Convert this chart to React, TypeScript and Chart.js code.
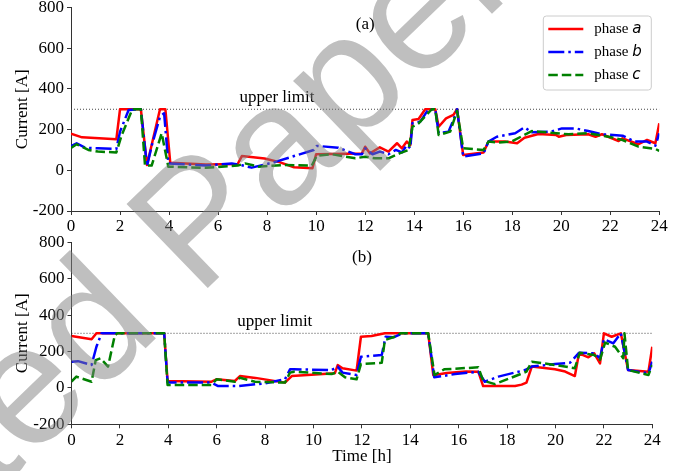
import React, { useEffect, useRef } from 'react';
import { Chart, registerables } from 'chart.js';

Chart.register(...registerables);

// ---------- axes / labels ----------
const X_MIN = 0;
const X_MAX = 24;
const X_STEP = 2;
const Y_MIN = -200;
const Y_MAX = 800;
const Y_STEP = 200;
const UPPER_LIMIT = 300;
const PHASES = ['a', 'b', 'c'];
const PANEL_LABELS = ['(a)', '(b)'];
const Y_TITLE = 'Current [A]';
const X_TITLE = 'Time [h]';
const LIMIT_TEXT = 'upper limit';
const WATERMARK = 'Accepted Paper';

// ---------- panel (a) ----------
const aTimeA = [0, 0.45, 1.85, 2.0, 2.85, 3.1, 3.63, 3.85, 4.05, 5.5, 6.8, 6.97, 7.9, 8.5, 9.1, 9.85, 10.0, 11.87, 12.0, 12.2, 12.6, 12.95, 13.3, 13.5, 13.7, 13.84, 13.93, 14.18, 14.45, 14.86, 15.0, 15.3, 15.6, 15.75, 16.0, 16.83, 17.03, 17.7, 18.2, 18.5, 19.07, 19.8, 19.9, 20.2, 21.1, 21.4, 21.66, 22.34, 22.5, 23.15, 23.5, 23.84, 24];
const aCurA = [180, 162, 152, 300, 300, 26, 300, 300, 37, 28, 31, 70, 58, 40, 15, 10, 79, 83, 116, 83, 113, 92, 133, 108, 141, 124, 247, 252, 300, 300, 214, 255, 272, 300, 75, 88, 141, 141, 133, 160, 178, 173, 165, 173, 177, 165, 177, 144, 157, 128, 149, 133, 231];

const aTimeB = [0, 0.23, 0.57, 1.1, 1.85, 2.0, 2.35, 2.85, 3.1, 3.3, 3.63, 3.8, 3.97, 5.5, 6.56, 6.97, 7.37, 8.3, 9.1, 9.9, 10.03, 10.9, 11.6, 11.87, 12.0, 12.3, 12.6, 12.95, 13.25, 13.5, 13.7, 13.84, 13.93, 14.25, 14.58, 14.86, 15.0, 15.4, 15.6, 15.75, 16.0, 16.83, 17.03, 17.37, 18.12, 18.5, 18.8, 19.6, 20.03, 20.57, 21.1, 21.66, 22.5, 23.0, 23.5, 23.84, 24];
const aCurB = [118, 133, 111, 108, 105, 190, 296, 300, 20, 124, 263, 280, 34, 23, 34, 25, 13, 40, 70, 100, 120, 111, 79, 79, 108, 79, 92, 79, 100, 88, 124, 108, 231, 239, 300, 300, 182, 190, 247, 300, 67, 83, 141, 165, 182, 211, 187, 190, 206, 206, 193, 177, 170, 141, 141, 121, 182];

const aTimeC = [0, 0.23, 0.71, 1.1, 1.85, 2.07, 2.5, 2.85, 3.02, 3.29, 3.7, 3.97, 5.5, 6.8, 7.1, 7.65, 8.73, 9.82, 10.03, 10.64, 11.6, 12.0, 12.4, 12.95, 13.4, 13.77, 13.93, 14.18, 14.72, 14.86, 15.0, 15.47, 15.75, 16.0, 16.83, 17.03, 17.44, 17.97, 18.8, 19.8, 20.3, 21.1, 21.93, 22.5, 23.15, 23.84, 24];
const aCurC = [110, 128, 100, 92, 88, 173, 300, 300, 23, 23, 182, 18, 12, 23, 34, 18, 26, 23, 72, 79, 59, 67, 59, 59, 83, 100, 214, 231, 300, 300, 173, 190, 292, 108, 100, 141, 137, 141, 193, 182, 177, 182, 165, 149, 116, 105, 95];

// ---------- panel (b) ----------
const bTimeA = [0, 0.83, 1.03, 3.83, 3.97, 5.79, 5.99, 6.75, 6.96, 7.6, 8.82, 9.1, 10.88, 11.0, 11.2, 11.78, 11.96, 12.4, 12.95, 14.74, 14.95, 15.5, 16.3, 16.81, 17.01, 18.33, 18.6, 18.8, 19.02, 19.98, 20.4, 20.8, 20.97, 21.36, 21.6, 21.84, 22.0, 22.32, 22.7, 23.0, 23.84, 24];
const bCurA = [285, 267, 300, 300, 38, 34, 47, 38, 65, 55, 29, 65, 80, 125, 108, 95, 281, 285, 300, 300, 70, 82, 90, 89, 10, 10, 18, 29, 117, 102, 90, 65, 190, 168, 190, 135, 300, 281, 300, 98, 89, 226];

const bTimeB = [0, 0.27, 0.83, 1.03, 1.24, 3.83, 3.97, 5.79, 6.06, 6.89, 7.99, 8.82, 9.03, 9.2, 10.75, 11.0, 11.2, 11.78, 11.96, 12.82, 12.98, 13.3, 13.7, 14.74, 14.99, 15.85, 16.81, 17.08, 17.64, 18.74, 19.02, 19.98, 20.6, 20.97, 21.6, 21.84, 22.0, 22.39, 22.7, 23.0, 23.84, 24];
const bCurB = [144, 147, 126, 226, 300, 300, 29, 29, 10, 10, 25, 47, 102, 102, 98, 117, 84, 71, 171, 181, 281, 278, 300, 300, 58, 76, 89, 34, 62, 98, 117, 131, 138, 193, 190, 163, 267, 245, 300, 98, 80, 144];

const bTimeC = [0, 0.2, 0.83, 1.0, 1.2, 1.51, 1.79, 1.9, 3.83, 3.97, 5.79, 5.99, 6.75, 6.96, 7.58, 8.82, 9.03, 9.2, 10.75, 11.0, 11.3, 11.78, 11.96, 12.82, 12.95, 13.35, 13.6, 14.74, 15.0, 15.4, 16.81, 17.01, 17.5, 18.8, 19.02, 19.98, 20.8, 21.0, 21.6, 21.84, 22.05, 22.46, 22.8, 22.85, 23.0, 23.84, 24];
const bCurC = [35, 62, 34, 153, 163, 117, 290, 300, 300, 16, 16, 47, 34, 56, 34, 29, 84, 89, 76, 89, 58, 47, 131, 138, 263, 281, 300, 300, 71, 102, 113, 40, 21, 89, 144, 126, 108, 193, 181, 155, 249, 226, 163, 300, 98, 71, 126];

// ---------- styling ----------
const SERIF = '"Liberation Serif", "Times New Roman", serif';
const FONT_SIZE = 17;
const COLORS = ['#ff0000', '#0000ff', '#008000'];
const DASHES: number[][] = [[], [16, 4, 2.5, 4], [9.5, 4]];
const LINE_W = 2.5;
const AXIS_COLOR = '#333333';

const pts = (t: number[], v: number[]) => t.map((x, i) => ({ x, y: v[i] }));

function buildDatasets(series: [number[], number[]][]) {
  const lines = series.map(([t, v], i) => ({
    label: 'phase ' + PHASES[i],
    data: pts(t, v),
    borderColor: COLORS[i],
    borderWidth: LINE_W,
    borderDash: DASHES[i],
    borderCapStyle: 'butt',
    borderJoinStyle: 'round',
    pointRadius: 0,
    tension: 0,
    fill: false,
  }));
  const limit = {
    label: 'limit',
    data: [
      { x: X_MIN, y: UPPER_LIMIT },
      { x: X_MAX, y: UPPER_LIMIT },
    ],
    borderColor: '#444444',
    borderWidth: 1,
    borderDash: [1, 2],
    pointRadius: 0,
    fill: false,
  };
  // index 0 is drawn on top: phase c on top, then b, then a, then limit
  return [lines[2], lines[1], lines[0], limit];
}

const annotPlugin = {
  id: 'annot',
  afterDatasetsDraw(chart: any, _args: any, o: any) {
    const { ctx } = chart;
    const x = chart.scales.x;
    const y = chart.scales.y;
    ctx.save();
    ctx.fillStyle = '#000';
    ctx.font = `${FONT_SIZE}px ${SERIF}`;
    ctx.textAlign = 'left';
    ctx.textBaseline = 'alphabetic';
    ctx.fillText(LIMIT_TEXT, x.getPixelForValue(o.limitX), y.getPixelForValue(UPPER_LIMIT) - 7);
    ctx.textAlign = 'center';
    ctx.textBaseline = 'middle';
    ctx.fillText(o.panel, x.getPixelForValue(12), y.getPixelForValue(o.panelY));

    if (o.legend) {
      const ca = chart.chartArea;
      const bw = 108;
      const bh = 74;
      const bx = ca.right - 8 - bw;
      const by = ca.top + 8.5;
      const r = 3;
      ctx.beginPath();
      ctx.moveTo(bx + r, by);
      ctx.lineTo(bx + bw - r, by);
      ctx.arcTo(bx + bw, by, bx + bw, by + r, r);
      ctx.lineTo(bx + bw, by + bh - r);
      ctx.arcTo(bx + bw, by + bh, bx + bw - r, by + bh, r);
      ctx.lineTo(bx + r, by + bh);
      ctx.arcTo(bx, by + bh, bx, by + bh - r, r);
      ctx.lineTo(bx, by + r);
      ctx.arcTo(bx, by, bx + r, by, r);
      ctx.closePath();
      ctx.fillStyle = 'rgba(255,255,255,0.8)';
      ctx.fill();
      ctx.strokeStyle = '#cccccc';
      ctx.lineWidth = 1;
      ctx.stroke();

      PHASES.forEach((p, i) => {
        const ry = by + 13 + i * 23;
        ctx.beginPath();
        ctx.setLineDash(DASHES[i]);
        ctx.lineCap = 'butt';
        ctx.strokeStyle = COLORS[i];
        ctx.lineWidth = LINE_W;
        ctx.moveTo(bx + 5, ry);
        ctx.lineTo(bx + 40, ry);
        ctx.stroke();
        ctx.setLineDash([]);
        ctx.fillStyle = '#000';
        ctx.textAlign = 'left';
        ctx.textBaseline = 'middle';
        ctx.font = `15px ${SERIF}`;
        const base = 'phase ';
        ctx.fillText(base, bx + 51, ry);
        const w = ctx.measureText(base).width;
        ctx.font = 'italic 15px "DejaVu Sans", sans-serif';
        ctx.fillText(p, bx + 51 + w, ry);
      });
    }
    ctx.restore();
  },
};

const watermarkPlugin = {
  id: 'wm',
  afterDraw(chart: any, _args: any, o: any) {
    const { ctx } = chart;
    ctx.save();
    ctx.beginPath();
    ctx.rect(0, o.clipTop, chart.width, o.clipBottom - o.clipTop);
    ctx.clip();
    ctx.translate(o.x, o.y - o.offsetY);
    ctx.rotate((o.angle * Math.PI) / 180);
    ctx.font = `${o.size}px "Liberation Sans", Arial, sans-serif`;
    ctx.fillStyle = 'rgba(128,128,128,0.5)';
    ctx.textAlign = 'left';
    ctx.textBaseline = 'alphabetic';
    ctx.fillText(WATERMARK, 0, 0);
    ctx.restore();
  },
};

const WM = { x: -346, y: 823, angle: -44, size: 170 };

function makeConfig(p: {
  series: [number[], number[]][];
  yWidth: number;
  xHeight: number;
  padTop: number;
  padRight: number;
  showXTitle: boolean;
  xTickPad: number;
  panel: string;
  panelY: number;
  limitX: number;
  legend: boolean;
  offsetY: number;
  clipTop: number;
  clipBottom: number;
}): any {
  const tickFont = { family: SERIF, size: FONT_SIZE };
  return {
    type: 'line',
    data: { datasets: buildDatasets(p.series) },
    plugins: [annotPlugin, watermarkPlugin],
    options: {
      animation: false,
      responsive: false,
      maintainAspectRatio: false,
      devicePixelRatio: 1,
      layout: { padding: { left: 0, top: p.padTop, right: p.padRight, bottom: 0 } },
      plugins: {
        legend: { display: false },
        tooltip: { enabled: false },
        annot: { panel: p.panel, panelY: p.panelY, limitX: p.limitX, legend: p.legend },
        wm: { ...WM, offsetY: p.offsetY, clipTop: p.clipTop, clipBottom: p.clipBottom },
      },
      scales: {
        x: {
          type: 'linear',
          min: X_MIN,
          max: X_MAX,
          ticks: { stepSize: X_STEP, font: tickFont, color: '#000', padding: p.xTickPad, maxRotation: 0, autoSkip: false },
          grid: { display: true, drawOnChartArea: false, drawTicks: true, tickLength: 4, color: AXIS_COLOR, lineWidth: 1 },
          border: { display: true, color: AXIS_COLOR, width: 1 },
          title: {
            display: p.showXTitle,
            text: X_TITLE,
            font: { family: SERIF, size: FONT_SIZE },
            color: '#000',
            padding: { top: 0, bottom: 4.5 },
          },
          afterFit: (s: any) => {
            s.height = p.xHeight;
            s.paddingLeft = 0;
            s.paddingRight = 0;
          },
        },
        y: {
          type: 'linear',
          min: Y_MIN,
          max: Y_MAX,
          ticks: { stepSize: Y_STEP, font: tickFont, color: '#000', padding: 3 },
          grid: { display: true, drawOnChartArea: false, drawTicks: true, tickLength: 4, color: AXIS_COLOR, lineWidth: 1 },
          border: { display: true, color: AXIS_COLOR, width: 1 },
          title: {
            display: true,
            text: Y_TITLE,
            font: { family: SERIF, size: FONT_SIZE },
            color: '#000',
            padding: { top: 12, bottom: 0 },
          },
          afterFit: (s: any) => {
            s.width = p.yWidth;
            s.paddingTop = 0;
            s.paddingBottom = 0;
          },
        },
      },
    },
  };
}

export default function App() {
  const topRef = useRef<HTMLCanvasElement>(null);
  const botRef = useRef<HTMLCanvasElement>(null);

  useEffect(() => {
    const c1 = new Chart(
      topRef.current as HTMLCanvasElement,
      makeConfig({
        series: [
          [aTimeA, aCurA],
          [aTimeB, aCurB],
          [aTimeC, aCurC],
        ],
        yWidth: 71,
        xHeight: 29,
        padTop: 7.5,
        padRight: 29.7,
        showXTitle: false,
        xTickPad: 1,
        panel: PANEL_LABELS[0],
        panelY: 714,
        limitX: 6.87,
        legend: true,
        offsetY: 0,
        clipTop: 0,
        clipBottom: 230,
      })
    );
    const c2 = new Chart(
      botRef.current as HTMLCanvasElement,
      makeConfig({
        series: [
          [bTimeA, bCurA],
          [bTimeB, bCurB],
          [bTimeC, bCurC],
        ],
        yWidth: 71.5,
        xHeight: 46.7,
        padTop: 12.3,
        padRight: 36.7,
        showXTitle: true,
        xTickPad: 2,
        panel: PANEL_LABELS[1],
        panelY: 719,
        limitX: 6.85,
        legend: false,
        offsetY: 230,
        clipTop: 0,
        clipBottom: 241,
      })
    );
    return () => {
      c1.destroy();
      c2.destroy();
    };
  }, []);

  return (
    <div style={{ position: 'absolute', left: 0, top: 0, width: 689, height: 471, background: '#fff', overflow: 'hidden' }}>
      <canvas ref={topRef} width={689} height={240} style={{ position: 'absolute', left: 0, top: 0, width: 689, height: 240 }} />
      <canvas ref={botRef} width={689} height={241} style={{ position: 'absolute', left: 0, top: 230, width: 689, height: 241 }} />
    </div>
  );
}
